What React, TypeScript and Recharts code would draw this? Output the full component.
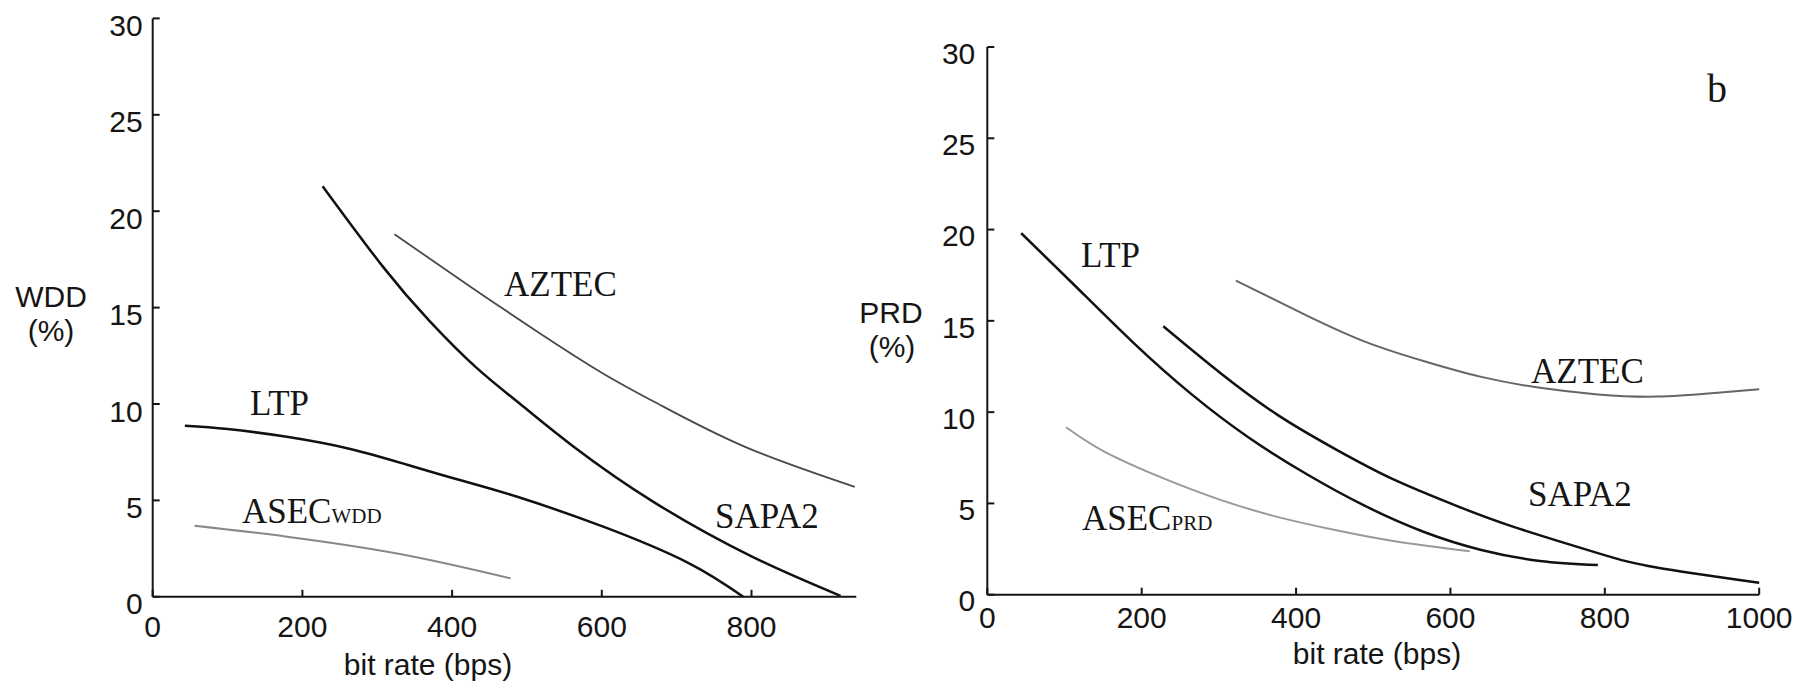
import React from 'react';
import { LineChart, Line, XAxis, YAxis } from 'recharts';

// panel a: WDD (%) vs bit rate (bps)
const wddSapa2 = [
  { x: 227, y: 21.3 }, { x: 308, y: 17.1 }, { x: 370, y: 14.3 }, { x: 432, y: 11.9 },
  { x: 491, y: 10.0 }, { x: 562, y: 7.8 }, { x: 670, y: 4.9 }, { x: 800, y: 2.1 },
  { x: 919, y: 0.05 },
];
const wddAztec = [
  { x: 323, y: 18.8 }, { x: 424, y: 16.1 }, { x: 516, y: 13.7 }, { x: 601, y: 11.6 },
  { x: 678, y: 9.95 }, { x: 793, y: 7.75 }, { x: 938, y: 5.7 },
];
const wddLtp = [
  { x: 43, y: 8.87 }, { x: 100, y: 8.7 }, { x: 179, y: 8.3 }, { x: 264, y: 7.67 },
  { x: 340, y: 6.85 }, { x: 409, y: 6.07 }, { x: 486, y: 5.2 }, { x: 601, y: 3.65 },
  { x: 716, y: 1.75 }, { x: 789, y: 0 },
];
const wddAsec = [
  { x: 56, y: 3.68 }, { x: 179, y: 3.12 }, { x: 332, y: 2.21 }, { x: 478, y: 0.96 },
];

// panel b: PRD (%) vs bit rate (bps)
const prdLtp = [
  { x: 44, y: 19.8 }, { x: 113, y: 16.95 }, { x: 188, y: 13.85 }, { x: 264, y: 11.0 },
  { x: 339, y: 8.6 }, { x: 414, y: 6.6 }, { x: 490, y: 4.85 }, { x: 565, y: 3.45 },
  { x: 640, y: 2.45 }, { x: 716, y: 1.85 }, { x: 791, y: 1.62 },
];
const prdSapa2 = [
  { x: 228, y: 14.7 }, { x: 301, y: 12.17 }, { x: 376, y: 9.85 }, { x: 452, y: 7.95 },
  { x: 527, y: 6.3 }, { x: 603, y: 4.95 }, { x: 678, y: 3.77 }, { x: 791, y: 2.28 },
  { x: 867, y: 1.49 }, { x: 1000, y: 0.65 },
];
const prdAztec = [
  { x: 322, y: 17.2 }, { x: 414, y: 15.29 }, { x: 490, y: 13.85 }, { x: 565, y: 12.8 },
  { x: 640, y: 11.93 }, { x: 716, y: 11.33 }, { x: 791, y: 10.97 }, { x: 867, y: 10.85 },
  { x: 942, y: 11.05 }, { x: 1000, y: 11.26 },
];
const prdAsec = [
  { x: 102, y: 9.17 }, { x: 151, y: 7.85 }, { x: 226, y: 6.41 }, { x: 301, y: 5.21 },
  { x: 377, y: 4.25 }, { x: 452, y: 3.53 }, { x: 528, y: 2.93 }, { x: 625, y: 2.38 },
];

const yTicks = [0, 5, 10, 15, 20, 25, 30];
const wddRateTicks = [0, 200, 400, 600, 800];
const prdRateTicks = [0, 200, 400, 600, 800, 1000];

const SANS = '"Liberation Sans", Arial, sans-serif';
const SERIF = '"Liberation Serif", "Times New Roman", serif';
const INK = '#151515';

function YTick(props: any) {
  const { x, y, payload, shift } = props;
  return (
    <text x={x} y={y + shift} dy="0.355em" textAnchor="end" fontSize={30} fontFamily={SANS} fill={INK}>
      {payload.value}
    </text>
  );
}

const axisStroke = { stroke: INK, strokeWidth: 2 };

function Panel(props: any) {
  const { left, width, margin, xMax, xTicks, xTickMargin, yTickMargin, yShift, series } = props;
  return (
    <div style={{ position: 'absolute', left, top: 0 }}>
      <LineChart width={width} height={687} margin={margin}>
        <XAxis
          type="number"
          dataKey="x"
          domain={[0, xMax]}
          ticks={xTicks}
          height={60}
          tickSize={-7}
          tickMargin={xTickMargin}
          axisLine={axisStroke}
          tickLine={axisStroke}
          tick={{ fontSize: 30, fontFamily: SANS, fill: INK }}
        />
        <YAxis
          type="number"
          domain={[0, 30]}
          ticks={yTicks}
          width={60}
          tickSize={-7}
          tickMargin={yTickMargin}
          axisLine={axisStroke}
          tickLine={axisStroke}
          tick={<YTick shift={yShift} />}
        />
        {series.map((s: any) => (
          <Line
            key={s.name}
            data={s.data}
            dataKey="y"
            type="natural"
            stroke={s.color}
            strokeWidth={s.width}
            dot={false}
            activeDot={false}
            isAnimationActive={false}
          />
        ))}
      </LineChart>
    </div>
  );
}

const label = (x: number, y: number, text: string, sub?: string, size = 35) => (
  <text x={x} y={y} fontFamily={SERIF} fontSize={size} fill={INK}>
    {text}
    {sub && <tspan fontSize={21}>{sub}</tspan>}
  </text>
);

export default function App() {
  return (
    <div style={{ position: 'absolute', left: 0, top: 0, width: 1812, height: 687, background: '#fff' }}>
      <Panel
        left={0}
        width={900}
        margin={{ top: 18.4, right: 43.7, bottom: 30.2, left: 92.7 }}
        xMax={940}
        xTicks={wddRateTicks}
        xTickMargin={26}
        yTickMargin={17}
        yShift={7}
        series={[
          { name: 'SAPA2', data: wddSapa2, color: '#111', width: 2.5 },
          { name: 'AZTEC', data: wddAztec, color: '#4a4a4a', width: 1.8 },
          { name: 'LTP', data: wddLtp, color: '#111', width: 2.5 },
          { name: 'ASEC', data: wddAsec, color: '#888', width: 2 },
        ]}
      />
      <Panel
        left={900}
        width={912}
        margin={{ top: 47, right: 52.8, bottom: 32.3, left: 27.3 }}
        xMax={1000}
        xTicks={prdRateTicks}
        xTickMargin={19}
        yTickMargin={19}
        yShift={6}
        series={[
          { name: 'LTP', data: prdLtp, color: '#111', width: 2.5 },
          { name: 'SAPA2', data: prdSapa2, color: '#111', width: 2.5 },
          { name: 'AZTEC', data: prdAztec, color: '#666', width: 2 },
          { name: 'ASEC', data: prdAsec, color: '#999', width: 2 },
        ]}
      />
      <svg width={1812} height={687} style={{ position: 'absolute', left: 0, top: 0, pointerEvents: 'none' }}>
        <g fontFamily={SANS} fontSize={30} fill={INK} textAnchor="middle">
          <text x={51} y={307}>WDD</text>
          <text x={51} y={341}>(%)</text>
          <text x={891} y={323}>PRD</text>
          <text x={892} y={357}>(%)</text>
          <text x={428} y={675}>bit rate (bps)</text>
          <text x={1377} y={664}>bit rate (bps)</text>
        </g>
        {label(504, 296, 'AZTEC')}
        {label(250, 415, 'LTP')}
        {label(715, 528, 'SAPA2')}
        {label(242, 523, 'ASEC', 'WDD')}
        {label(1081, 267, 'LTP')}
        {label(1531, 383, 'AZTEC')}
        {label(1528, 506, 'SAPA2')}
        {label(1082, 530, 'ASEC', 'PRD')}
        {label(1707, 102, 'b', undefined, 40)}
      </svg>
    </div>
  );
}
